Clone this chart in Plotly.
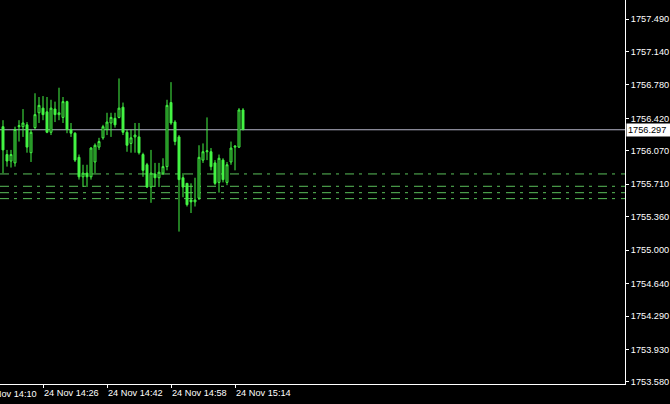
import pandas as pd
import plotly.graph_objects as go

# ---- data (1-minute bars, 24 Nov 14:16 - 15:16) ----
times = pd.date_range("2020-11-24 14:16", periods=61, freq="min")
opens = [1756.33, 1756.03, 1755.96, 1755.94, 1756.33, 1756.33, 1756.35, 1756.05, 1756.32, 1756.48,
         1756.53, 1756.49, 1756.27, 1756.52, 1756.46, 1756.43, 1756.60, 1756.30, 1756.26, 1756.00,
         1755.79, 1755.83, 1755.79, 1755.95, 1756.11, 1756.21, 1756.30, 1756.37, 1756.42, 1756.43,
         1756.54, 1756.27, 1756.15, 1756.22, 1756.22, 1756.03, 1755.92, 1755.68, 1755.82, 1755.78,
         1755.83, 1755.90, 1756.59, 1756.38, 1756.22, 1755.78, 1755.72, 1755.54, 1755.52, 1755.56,
         1755.97, 1756.06, 1756.06, 1755.94, 1755.73, 1755.97, 1755.73, 1755.95, 1756.11, 1756.11,
         1756.51]
highs = [1756.40, 1756.08, 1756.08, 1756.33, 1756.40, 1756.52, 1756.38, 1756.30, 1756.69, 1756.65,
         1756.66, 1756.65, 1756.62, 1756.60, 1756.75, 1756.65, 1756.61, 1756.37, 1756.27, 1756.03,
         1755.92, 1755.92, 1756.11, 1756.15, 1756.21, 1756.35, 1756.48, 1756.48, 1756.48, 1756.85,
         1756.59, 1756.30, 1756.30, 1756.37, 1756.37, 1756.05, 1755.94, 1756.08, 1755.94, 1755.94,
         1755.99, 1756.62, 1756.81, 1756.40, 1756.24, 1755.83, 1755.72, 1755.72, 1755.78, 1756.13,
         1756.15, 1756.43, 1756.10, 1755.97, 1756.03, 1755.99, 1755.95, 1756.17, 1756.13, 1756.53,
         1756.53]
lows = [1755.83, 1755.90, 1755.89, 1755.90, 1756.17, 1756.22, 1756.05, 1755.95, 1756.30, 1756.37,
        1756.40, 1756.26, 1756.24, 1756.38, 1756.40, 1756.37, 1756.26, 1756.22, 1755.95, 1755.76,
        1755.68, 1755.68, 1755.76, 1755.83, 1756.08, 1756.19, 1756.24, 1756.22, 1756.32, 1756.42,
        1756.24, 1756.06, 1756.05, 1756.05, 1756.03, 1755.79, 1755.67, 1755.51, 1755.68, 1755.68,
        1755.81, 1755.86, 1756.35, 1756.13, 1755.20, 1755.57, 1755.47, 1755.40, 1755.47, 1755.54,
        1755.94, 1755.97, 1755.86, 1755.70, 1755.62, 1755.73, 1755.70, 1755.92, 1755.86, 1756.10,
        1756.297]
closes = [1756.08, 1755.96, 1756.03, 1756.30, 1756.34, 1756.37, 1756.11, 1756.27, 1756.46, 1756.56,
          1756.46, 1756.27, 1756.53, 1756.46, 1756.48, 1756.60, 1756.30, 1756.26, 1755.97, 1755.79,
          1755.83, 1755.79, 1756.10, 1756.13, 1756.17, 1756.33, 1756.38, 1756.43, 1756.35, 1756.53,
          1756.27, 1756.13, 1756.21, 1756.24, 1756.05, 1755.86, 1755.68, 1755.83, 1755.78, 1755.84,
          1755.90, 1756.56, 1756.37, 1756.17, 1755.76, 1755.68, 1755.49, 1755.52, 1755.54, 1756.00,
          1756.06, 1756.07, 1755.90, 1755.72, 1755.99, 1755.76, 1755.92, 1756.10, 1756.12, 1756.51,
          1756.297]

current_price = 1756.297
level_lines = [1755.821, 1755.688, 1755.619, 1755.555]

price_ticks = [1757.490, 1757.140, 1756.780, 1756.420, 1756.070, 1755.710,
               1755.360, 1755.000, 1754.640, 1754.290, 1753.930, 1753.580]
time_ticks = ["2020-11-24 14:26", "2020-11-24 14:42", "2020-11-24 14:58", "2020-11-24 15:14"]
time_tick_labels = ["24 Nov 14:26", "24 Nov 14:42", "24 Nov 14:58", "24 Nov 15:14"]
clipped_label = "24 Nov 14:10"

x_range = ["2020-11-24 14:15:15", "2020-11-24 16:51:30"]
y_range = [1753.558, 1757.695]

GREEN = "#44F544"
FONT = "Liberation Sans"
FS = 9.2

fig = go.Figure()
fig.add_trace(go.Candlestick(
    x=times, open=opens, high=highs, low=lows, close=closes,
    increasing=dict(line=dict(color=GREEN, width=1), fillcolor="#0B3A0B"),
    decreasing=dict(line=dict(color=GREEN, width=1), fillcolor=GREEN),
    whiskerwidth=0, hoverinfo="skip", showlegend=False,
))

shapes = []
for lv in level_lines:
    shapes.append(dict(type="line", xref="paper", x0=0, x1=1, yref="y", y0=lv, y1=lv,
                       line=dict(color="#5ABF5A", width=1, dash="9px,5px,3px,6px"), layer="below"))
shapes.append(dict(type="line", xref="paper", x0=0, x1=1, yref="y", y0=current_price, y1=current_price,
                   line=dict(color="#B4B4C8", width=1), layer="below"))
fig.update_layout(shapes=shapes)

fig.add_annotation(xref="paper", x=1, yref="y", y=current_price, xanchor="left", yanchor="middle",
                   xshift=1, text=f"{current_price:.3f}", showarrow=False, bgcolor="#FFFFFF",
                   font=dict(color="#000000", size=FS, family=FONT), borderpad=1, width=44, align="left")
fig.add_annotation(xref="paper", x=-21 / 625, yref="paper", y=0, xanchor="left", yanchor="top",
                   xshift=1, yshift=-3, text=clipped_label, showarrow=False,
                   font=dict(color="#FFFFFF", size=FS, family=FONT))

fig.update_layout(
    width=670, height=404,
    margin=dict(l=0, r=45, t=0, b=20, autoexpand=False),
    paper_bgcolor="#000000", plot_bgcolor="#000000",
    font=dict(family=FONT, size=FS, color="#FFFFFF"),
    showlegend=False,
    xaxis=dict(range=x_range, type="date", rangeslider=dict(visible=False), showgrid=False, zeroline=False,
               showline=True, linecolor="#FFFFFF", linewidth=1, ticks="outside", ticklen=3,
               tickcolor="#FFFFFF", tickvals=time_ticks, ticktext=time_tick_labels, tickangle=0,
               ticklabelposition="outside right", automargin=False, fixedrange=True),
    yaxis=dict(range=y_range, side="right", showgrid=False, zeroline=False, showline=True,
               linecolor="#FFFFFF", linewidth=1, ticks="outside", ticklen=3, tickcolor="#FFFFFF",
               tickvals=price_ticks, ticktext=[f"{v:.3f}" for v in price_ticks], automargin=False,
               fixedrange=True),
)

fig.write_html("out.html", config={"displayModeBar": False},
               post_script="document.body.style.margin='0px';document.body.style.background='#000';")
